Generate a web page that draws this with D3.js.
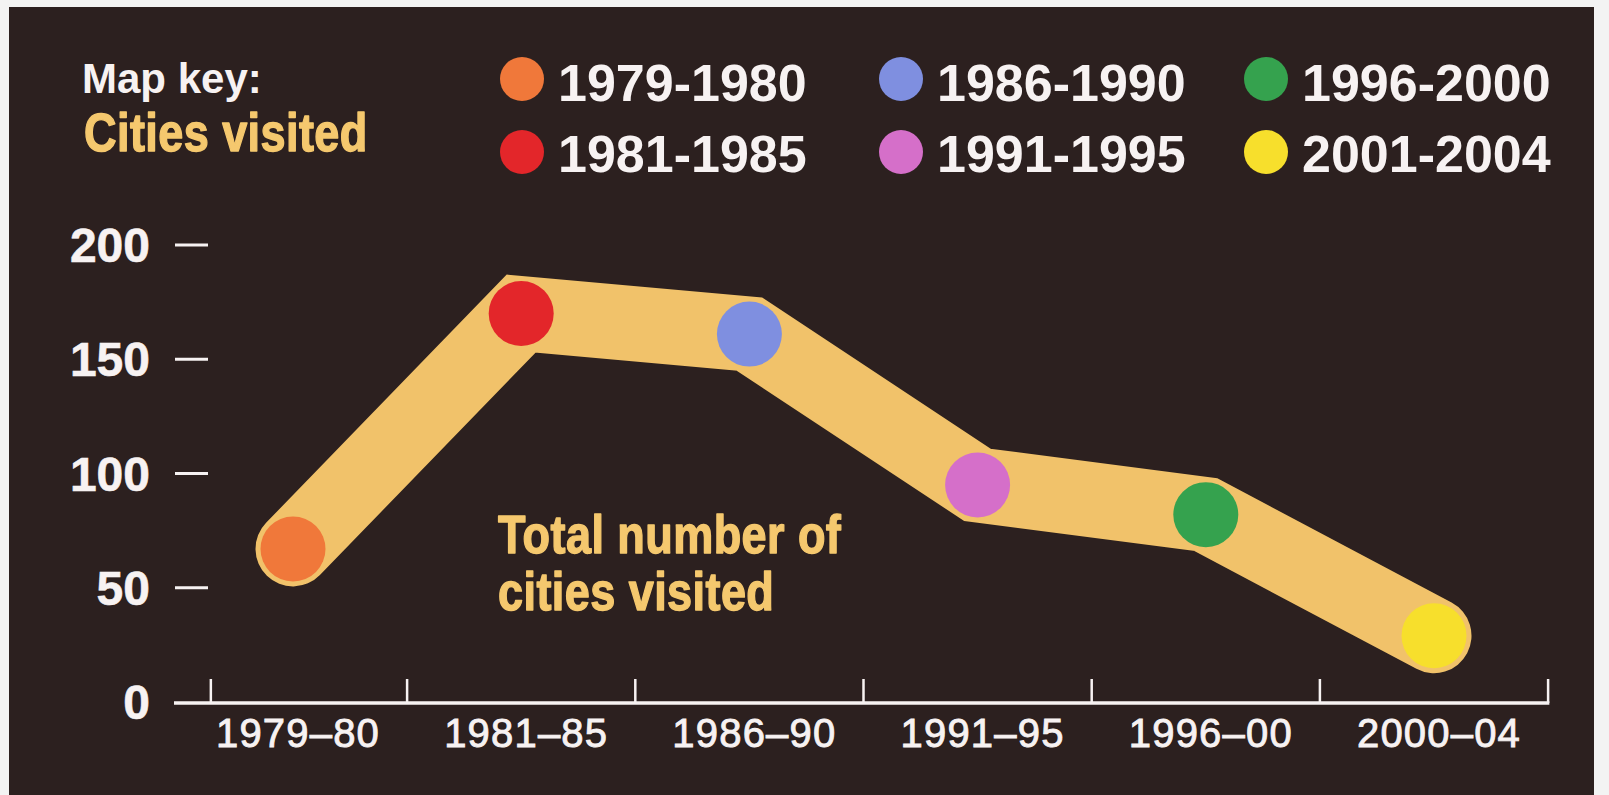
<!DOCTYPE html>
<html>
<head>
<meta charset="utf-8">
<script src="https://cdn.jsdelivr.net/npm/d3@7"></script>
<style>
  html, body { margin: 0; padding: 0; background: #f3f3f3; }
  svg { display: block; }
</style>
</head>
<body>
<svg id="chart" width="1609" height="795"></svg>
<script>
// Cities visited per period
const periods = ["1979–80", "1981–85", "1986–90", "1991–95", "1996–00", "2000–04"];
const citiesVisited = [67, 170, 161, 95, 82, 29];
const periodColors = ["#f0783a", "#e3262a", "#7f8fe0", "#d56fc9", "#35a24e", "#f7df2c"];
const keyLabels = ["1979-1980", "1981-1985", "1986-1990", "1991-1995", "1996-2000", "2001-2004"];
const yTickValues = [0, 50, 100, 150, 200];
// period boundaries on the time axis, in period-index units
const periodBoundaries = [-0.36, 0.5, 1.5, 2.5, 3.5, 4.5, 5.5];

const W = 1609, H = 795;
const BG = "#2c201f", BAND = "#f1c26a", WHITE = "#f7f2f2", GOLD = "#f5c86e";
const sans = "'Liberation Sans', Arial, sans-serif";
const CONDENSE = 0.85; // horizontal squeeze for the condensed gold captions

const svg = d3.select("#chart");

// dark panel
svg.append("rect").attr("x", 9).attr("y", 7).attr("width", 1585).attr("height", H - 7).attr("fill", BG);

const x = d3.scaleLinear().domain([0, periods.length - 1]).range([293, 1434]);
const y = d3.scaleLinear().domain([0, 200]).range([702, 245]);

// ---- y axis: labels and short dashes
const yAxis = svg.append("g");
yAxis.selectAll("text").data(yTickValues).join("text")
  .attr("x", 150).attr("y", d => y(d) + 17)
  .attr("text-anchor", "end")
  .attr("font-family", sans).attr("font-weight", "bold").attr("font-size", 48)
  .attr("fill", WHITE).attr("stroke", WHITE).attr("stroke-width", 0.6)
  .text(d => d);
yAxis.selectAll("line").data(yTickValues.filter(d => d > 0)).join("line")
  .attr("x1", 175).attr("x2", 208)
  .attr("y1", d => y(d)).attr("y2", d => y(d))
  .attr("stroke", WHITE).attr("stroke-width", 3);

// ---- x axis: baseline, boundary ticks, period labels
const xAxis = svg.append("g");
const xEnd = x(periodBoundaries[periodBoundaries.length - 1]);
xAxis.append("line")
  .attr("x1", 174).attr("x2", xEnd + 1.25)
  .attr("y1", y(0) + 1).attr("y2", y(0) + 1)
  .attr("stroke", WHITE).attr("stroke-width", 3.5);
xAxis.selectAll("line.tick").data(periodBoundaries).join("line")
  .attr("class", "tick")
  .attr("x1", d => x(d)).attr("x2", d => x(d))
  .attr("y1", y(0) - 23).attr("y2", y(0) + 1)
  .attr("stroke", WHITE).attr("stroke-width", 2.5);
xAxis.selectAll("text").data(periods).join("text")
  .attr("x", (d, i) => x(i) + 5).attr("y", 747)
  .attr("text-anchor", "middle")
  .attr("font-family", sans).attr("font-size", 40).attr("letter-spacing", 1.2)
  .attr("fill", WHITE).attr("stroke", WHITE).attr("stroke-width", 0.9)
  .text(d => d);

// ---- total cities band
const pts = citiesVisited.map((v, i) => [x(i), y(v)]);
svg.append("path")
  .attr("d", d3.line()(pts))
  .attr("fill", "none")
  .attr("stroke", BAND).attr("stroke-width", 75)
  .attr("stroke-linejoin", "miter").attr("stroke-linecap", "round");

// period dots
svg.append("g").selectAll("circle").data(citiesVisited).join("circle")
  .attr("cx", (d, i) => x(i)).attr("cy", d => y(d))
  .attr("r", 32.5)
  .attr("fill", (d, i) => periodColors[i]);

// condensed gold caption helper
function goldCaption(x0, lines) {
  const g = svg.append("g").attr("transform", `translate(${x0},0) scale(${CONDENSE},1)`);
  const t = g.append("text")
    .attr("font-family", sans).attr("font-weight", "bold").attr("font-size", 53)
    .attr("letter-spacing", 0.5).attr("fill", GOLD)
    .attr("stroke", GOLD).attr("stroke-width", 1.4).attr("stroke-linejoin", "round");
  lines.forEach(l => t.append("tspan").attr("x", 0).attr("y", l.y).text(l.text));
}

// band annotation
goldCaption(498, [{ text: "Total number of", y: 553 }, { text: "cities visited", y: 610 }]);

// ---- map key
svg.append("text").attr("x", 82).attr("y", 93)
  .attr("font-family", sans).attr("font-weight", "bold").attr("font-size", 42).attr("fill", WHITE)
  .text("Map key:");
goldCaption(84, [{ text: "Cities visited", y: 151 }]);

const keyCols = [522, 901, 1266];
const keyRows = [{ cy: 79, base: 101 }, { cy: 152, base: 172 }];
const key = svg.append("g").selectAll("g").data(keyLabels).join("g")
  .attr("transform", (d, i) => `translate(${keyCols[Math.floor(i / 2)]},0)`);
key.append("circle")
  .attr("cx", 0).attr("cy", (d, i) => keyRows[i % 2].cy)
  .attr("r", 22)
  .attr("fill", (d, i) => periodColors[i]);
key.append("text")
  .attr("x", 36).attr("y", (d, i) => keyRows[i % 2].base)
  .attr("font-family", sans).attr("font-weight", "bold").attr("font-size", 52)
  .attr("fill", WHITE)
  .text(d => d);
</script>
</body>
</html>
